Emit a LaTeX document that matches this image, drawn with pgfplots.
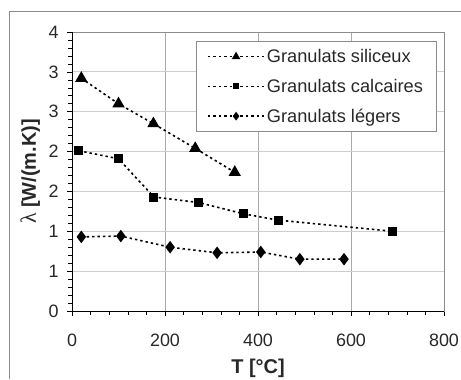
\documentclass[border=0pt]{standalone}
\usepackage{pgfplots}
\pgfplotsset{compat=1.18}
\usepackage{fontspec}
\setmainfont{Liberation Sans}
\newfontfamily\serifgreek{Liberation Serif}
\definecolor{gridc}{RGB}{205,205,205}
\definecolor{vgridc}{RGB}{170,170,170}
\definecolor{framec}{RGB}{140,140,140}
\definecolor{txt}{RGB}{40,40,40}
\begin{document}
\begin{tikzpicture}[x=1bp,y=1bp]
\useasboundingbox (0,0) rectangle (461,379);
\draw[framec, line width=0.8bp] (9,0) -- (9,368) -- (461,368);
\begin{axis}[
  at={(72bp,68bp)}, anchor=south west,
  scale only axis, width=372bp, height=279bp,
  xmin=0, xmax=800, ymin=0, ymax=3.5,
  xtick={0,200,...,800}, minor x tick num=4,
  ytick={0,0.5,...,3.5}, minor y tick num=4,
  yticklabels={0,1,1,2,2,3,3,4},
  xtick pos=bottom, ytick pos=left,
  tick align=outside,
  major tick length=5bp, minor tick length=4bp,
  every tick/.style={black, line width=0.6bp},
  xmajorgrids, ymajorgrids,
  x grid style={vgridc, line width=0.7bp},
  y grid style={gridc, line width=0.9bp},
  axis line style={framec, line width=0.8bp},
  tick label style={font=\fontsize{18}{20}\selectfont, text=txt},
  /pgf/number format/assume math mode=true,
  xticklabel style={anchor=center, yshift=-24bp},
  yticklabel style={anchor=east, xshift=-5bp},
  xlabel={\textbf{T [°C]}},
  ylabel={{\serifgreek\mdseries\fontsize{22}{22}\selectfont λ} \textbf{[W/(m.K)]}},
  label style={font=\fontsize{20}{22}\selectfont, text=txt},
  xlabel style={at={(axis description cs:0.5,-0.204)}, anchor=center},
  ylabel style={at={(axis description cs:-0.112,0.5)}, anchor=center},
  legend style={at={(rel axis cs:0.333,0.968)}, anchor=north west,
    draw=framec, line width=0.8bp, font=\fontsize{18.3}{20}\selectfont, text=txt,
    row sep=11bp, inner xsep=11bp, inner ysep=6bp, fill=white},
  legend cell align=left,
  legend image code/.code={%
    \draw[mark repeat=2, mark phase=2, every mark/.append style={scale=0.62}]
      plot coordinates {(0bp,0bp) (28bp,0bp) (56bp,0bp)};},
]
\addplot[black, line width=1.6bp, dash pattern=on 2.4bp off 3bp,
  mark=triangle*, mark size=5.5bp, mark options={solid, fill=black}] coordinates {
  (20,2.92) (100,2.60) (175,2.35) (265,2.04) (350,1.74)};
\addlegendentry{Granulats siliceux}
\addplot[black, line width=1.6bp, dash pattern=on 2.4bp off 3bp,
  mark=square*, mark size=3.7bp, mark options={solid, fill=black}] coordinates {
  (15,2.01) (100,1.91) (176,1.43) (273,1.36) (368,1.22) (443,1.14) (690,1.00)};
\addlegendentry{Granulats calcaires}
\addplot[black, line width=1.6bp, dash pattern=on 2.4bp off 3bp,
  mark=diamond*, mark size=5bp, mark options={solid, fill=black}] coordinates {
  (20,0.93) (105,0.94) (211,0.80) (312,0.73) (406,0.74) (490,0.65) (585,0.65)};
\addlegendentry{Granulats légers}
\draw[black, line width=0.8bp] (rel axis cs:0,1) -- (rel axis cs:0,0) -- (rel axis cs:1,0);
\end{axis}
\end{tikzpicture}
\end{document}
